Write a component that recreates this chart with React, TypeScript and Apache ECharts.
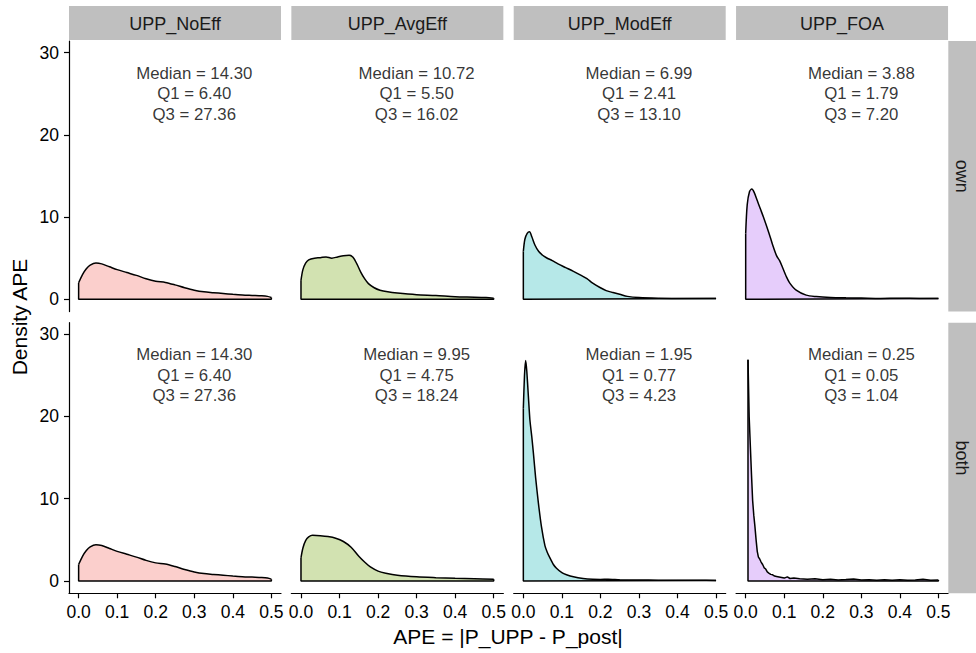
import React, { useEffect, useRef } from "react";
import * as echarts from "echarts";

// Facet labels
const columnLabels = ["UPP_NoEff", "UPP_AvgEff", "UPP_ModEff", "UPP_FOA"];
const rowLabels = ["own", "both"];

// Annotation texts [row][col]
const medians = [["14.30", "10.72", "6.99", "3.88"], ["14.30", "9.95", "1.95", "0.25"]];
const q1s = [["6.40", "5.50", "2.41", "1.79"], ["6.40", "4.75", "0.77", "0.05"]];
const q3s = [["27.36", "16.02", "13.10", "7.20"], ["27.36", "18.24", "4.23", "1.04"]];

// Tick values
const xTicks = [0, 0.1, 0.2, 0.3, 0.4, 0.5];
const yTicks = [0, 10, 20, 30];

// Density curves [APE, density]
const noEffOwn = [[0,2.0],[0.01,3.0],[0.02,3.7],[0.03,4.15],[0.045,4.4],[0.06,4.3],[0.08,3.95],[0.1,3.6],[0.125,3.25],[0.15,2.9],[0.175,2.5],[0.2,2.2],[0.225,2.05],[0.25,1.75],[0.275,1.4],[0.3,1.1],[0.325,0.9],[0.35,0.8],[0.375,0.7],[0.4,0.6],[0.425,0.52],[0.45,0.47],[0.475,0.42],[0.49,0.35],[0.5,0.22]];
const avgEffOwn = [[0,2.3],[0.005,3.6],[0.012,4.4],[0.02,4.8],[0.035,5.0],[0.05,5.05],[0.065,5.15],[0.08,5.0],[0.095,5.15],[0.11,5.3],[0.125,5.35],[0.135,5.1],[0.145,4.3],[0.155,3.3],[0.165,2.5],[0.175,1.9],[0.19,1.4],[0.205,1.1],[0.225,0.9],[0.25,0.75],[0.3,0.55],[0.35,0.45],[0.4,0.3],[0.45,0.25],[0.48,0.2],[0.5,0.12]];
const modEffOwn = [[0,5.8],[0.004,7.3],[0.01,8.0],[0.016,8.2],[0.022,7.6],[0.03,6.6],[0.04,5.8],[0.05,5.35],[0.06,5.05],[0.075,4.7],[0.09,4.3],[0.11,3.85],[0.13,3.4],[0.15,2.9],[0.165,2.5],[0.18,1.95],[0.2,1.4],[0.215,1.05],[0.23,0.85],[0.25,0.6],[0.27,0.35],[0.3,0.2],[0.35,0.12],[0.4,0.1],[0.45,0.1],[0.5,0.08]];
const foaOwn = [[0,8.0],[0.004,11.5],[0.01,13.1],[0.016,13.4],[0.022,13.0],[0.03,12.0],[0.038,11.0],[0.046,10.0],[0.06,8.1],[0.07,6.6],[0.08,5.3],[0.088,4.7],[0.097,3.7],[0.105,2.8],[0.114,2.0],[0.131,1.1],[0.157,0.5],[0.183,0.33],[0.22,0.22],[0.26,0.17],[0.3,0.14],[0.35,0.1],[0.4,0.12],[0.45,0.1],[0.5,0.08]];
const noEffBoth = [[0,2.0],[0.01,3.0],[0.02,3.7],[0.03,4.15],[0.045,4.4],[0.06,4.3],[0.08,3.95],[0.1,3.6],[0.125,3.25],[0.15,2.9],[0.175,2.5],[0.2,2.2],[0.225,2.05],[0.25,1.75],[0.275,1.4],[0.3,1.1],[0.325,0.9],[0.35,0.8],[0.375,0.7],[0.4,0.6],[0.425,0.52],[0.45,0.47],[0.475,0.42],[0.49,0.35],[0.5,0.22]];
const avgEffBoth = [[0,2.8],[0.005,4.0],[0.012,4.9],[0.02,5.35],[0.03,5.55],[0.05,5.5],[0.07,5.4],[0.09,5.2],[0.11,4.8],[0.13,4.1],[0.15,3.0],[0.165,2.3],[0.18,1.7],[0.2,1.2],[0.22,0.95],[0.25,0.7],[0.3,0.5],[0.35,0.4],[0.4,0.33],[0.45,0.27],[0.5,0.2]];
const modEffBoth = [[0,21],[0.003,25],[0.006,26.8],[0.009,25.5],[0.013,22.5],[0.017,19.6],[0.022,17.5],[0.026,15.6],[0.032,12.5],[0.039,9.5],[0.047,6.6],[0.056,4.3],[0.062,3.5],[0.069,2.8],[0.078,2.0],[0.086,1.55],[0.1,1.0],[0.112,0.75],[0.13,0.5],[0.155,0.3],[0.18,0.2],[0.2,0.18],[0.22,0.22],[0.25,0.15],[0.3,0.12],[0.35,0.1],[0.4,0.1],[0.45,0.08],[0.5,0.07]];
const foaBoth = [[0.006,26.9],[0.009,20],[0.012,16.5],[0.015,13],[0.018,9.8],[0.021,8.0],[0.024,6.6],[0.027,5.0],[0.03,3.6],[0.033,2.9],[0.036,2.7],[0.04,2.3],[0.044,2.0],[0.048,1.6],[0.052,1.45],[0.056,1.1],[0.06,0.95],[0.065,0.8],[0.07,0.75],[0.075,0.6],[0.08,0.55],[0.09,0.45],[0.1,0.35],[0.108,0.5],[0.115,0.3],[0.125,0.35],[0.14,0.28],[0.16,0.22],[0.18,0.26],[0.2,0.15],[0.22,0.2],[0.24,0.12],[0.26,0.18],[0.28,0.25],[0.3,0.12],[0.32,0.16],[0.34,0.1],[0.36,0.14],[0.38,0.1],[0.4,0.16],[0.42,0.1],[0.44,0.13],[0.46,0.2],[0.48,0.1],[0.5,0.12]];

const curves = [[noEffOwn, avgEffOwn, modEffOwn, foaOwn], [noEffBoth, avgEffBoth, modEffBoth, foaBoth]];
const fills = ["#FBCFCC", "#D2E2B1", "#B6E8E8", "#E6CDFB"];
const smoothFlags = [[0.3, 0.3, 0.3, 0.3], [0.3, 0.3, 0.2, false]];

const FONT = "Liberation Sans, Arial, Helvetica, sans-serif";

export default function App() {
  const ref = useRef<HTMLDivElement>(null);
  useEffect(() => {
    if (!ref.current) return;
    const chart = echarts.init(ref.current, undefined, { renderer: "svg" });
    const colLeft = [69, 291.35, 513.7, 736.05];
    const rowTop = [41, 322.7];
    const W = 212;
    const H = 270.6;
    const grids: any[] = [];
    const xAxes: any[] = [];
    const yAxes: any[] = [];
    const series: any[] = [];
    const graphics: any[] = [];
    for (let r = 0; r < 2; r++) {
      for (let c = 0; c < 4; c++) {
        const i = r * 4 + c;
        grids.push({ left: colLeft[c], top: rowTop[r], width: W, height: H, containLabel: false });
        const showX = r === 1;
        xAxes.push({
          type: "value", gridIndex: i, min: -0.025, max: 0.525,
          splitLine: { show: false },
          axisLine: { show: showX, onZero: false, lineStyle: { color: "#000", width: 1.2 } },
          axisTick: { show: showX, customValues: xTicks, length: 5, lineStyle: { color: "#000", width: 1.2 } },
          axisLabel: { show: showX, customValues: xTicks, margin: 10, color: "#000", fontSize: 17.5, fontFamily: FONT, formatter: (v: number) => v.toFixed(1) },
        });
        const showY = c === 0;
        yAxes.push({
          type: "value", gridIndex: i, min: -1.5, max: 31.4,
          splitLine: { show: false },
          axisLine: { show: showY, onZero: false, lineStyle: { color: "#000", width: 1.2 } },
          axisTick: { show: showY, customValues: yTicks, length: 5, lineStyle: { color: "#000", width: 1.2 } },
          axisLabel: { show: showY, customValues: yTicks, margin: 10, color: "#000", fontSize: 17.5, fontFamily: FONT },
        });
        const d = curves[r][c];
        series.push({
          type: "line", xAxisIndex: i, yAxisIndex: i, data: d, symbol: "none",
          smooth: smoothFlags[r][c],
          lineStyle: { color: "#000", width: 1.5 },
          areaStyle: { color: fills[c], opacity: 1, origin: 0 },
          silent: true,
        });
        const first = d[0];
        const last = d[d.length - 1];
        series.push({
          type: "line", xAxisIndex: i, yAxisIndex: i, symbol: "none",
          data: [[last[0], last[1]], [last[0], 0], [first[0], 0], [first[0], first[1]]],
          lineStyle: { color: "#000", width: 1.5 },
          silent: true,
        });
        series.push({
          type: "scatter", xAxisIndex: i, yAxisIndex: i, symbolSize: 1,
          itemStyle: { color: "rgba(0,0,0,0)" },
          data: [[0.3, 25]],
          label: {
            show: true, position: "inside", color: "#000", fontSize: 16.8, fontFamily: FONT,
            lineHeight: 20.5, align: "center", verticalAlign: "middle",
            formatter: () => `Median = ${medians[r][c]}\nQ1 = ${q1s[r][c]}\nQ3 = ${q3s[r][c]}`,
          },
          silent: true,
        });
      }
    }
    // top strips
    for (let c = 0; c < 4; c++) {
      graphics.push({ type: "rect", shape: { x: colLeft[c], y: 6, width: W, height: 34 }, style: { fill: "#BFBFBF" }, silent: true });
      graphics.push({ type: "text", x: colLeft[c] + W / 2, y: 23.5, style: { text: columnLabels[c], fill: "#1A1A1A", fontSize: 18, fontFamily: FONT, textAlign: "center", textVerticalAlign: "middle" }, silent: true });
    }
    // right strips
    for (let r = 0; r < 2; r++) {
      graphics.push({ type: "rect", shape: { x: 948.3, y: rowTop[r], width: 28, height: H }, style: { fill: "#BFBFBF" }, silent: true });
      graphics.push({ type: "text", x: 962.3, y: rowTop[r] + H / 2, rotation: -Math.PI / 2, style: { text: rowLabels[r], fill: "#1A1A1A", fontSize: 18, fontFamily: FONT, textAlign: "center", textVerticalAlign: "middle" }, silent: true });
    }
    graphics.push({ type: "text", x: 508, y: 636, style: { text: "APE = |P_UPP - P_post|", fill: "#000", fontSize: 21, fontFamily: FONT, textAlign: "center", textVerticalAlign: "middle" }, silent: true });
    graphics.push({ type: "text", x: 19, y: 317, rotation: Math.PI / 2, style: { text: "Density APE", fill: "#000", fontSize: 21, fontFamily: FONT, textAlign: "center", textVerticalAlign: "middle" }, silent: true });

    chart.setOption({
      animation: false,
      backgroundColor: "#fff",
      grid: grids,
      xAxis: xAxes,
      yAxis: yAxes,
      series,
      graphic: graphics,
    });
    return () => chart.dispose();
  }, []);
  return <div ref={ref} style={{ position: "fixed", left: 0, top: 0, width: 976, height: 653 }} />;
}
